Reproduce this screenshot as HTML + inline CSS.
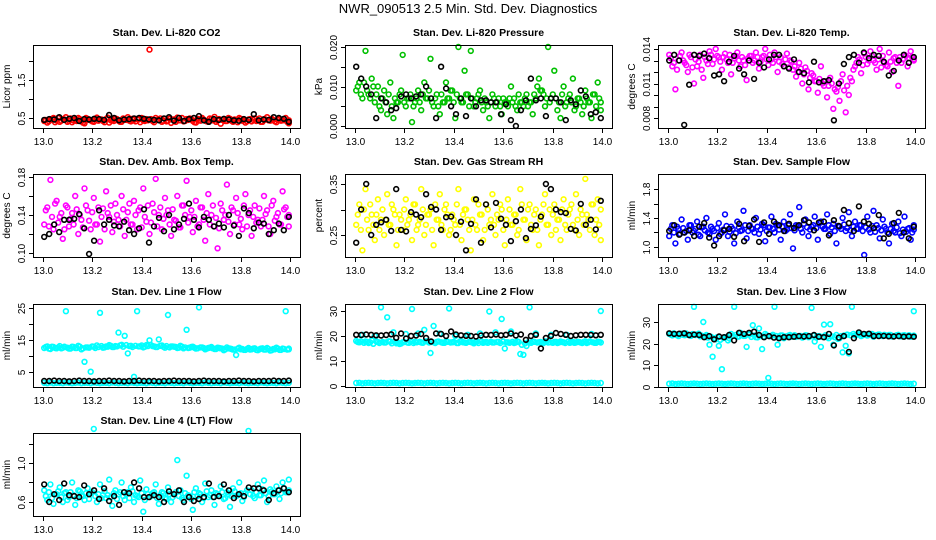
<!DOCTYPE html>
<html><head><meta charset="utf-8">
<style>
html,body{margin:0;padding:0;background:#fff;}
svg{display:block;font-family:"Liberation Sans",Arial,sans-serif;}
.t{font-size:10.5px;font-weight:bold;text-anchor:middle;}
.tk{font-size:10px;text-anchor:middle;}
</style></head>
<body>
<svg id="chart" width="936" height="540" viewBox="0 0 936 540">
<text x="468" y="13" font-size="13" text-anchor="middle">NWR_090513  2.5 Min. Std. Dev. Diagnostics</text>
</svg>
<script>
// ---- data (estimated from reference) ----
const xTicks = [13.0, 13.2, 13.4, 13.6, 13.8, 14.0];
const xTickLabels = ["13.0","13.2","13.4","13.6","13.8","14.0"];

const co2Red = [0.42,0.38,0.45,0.5,0.44,0.4,0.47,0.52,0.43,0.39,0.46,0.5,0.41,0.36,0.48,0.44,0.4,0.51,0.45,0.42,0.47,0.38,0.44,0.49,0.43,0.4,0.46,0.52,0.41,0.45,0.48,0.39,0.44,0.47,2.3,0.42,0.5,0.45,0.4,0.48,0.43,0.37,0.46,0.51,0.44,0.41,0.47,0.49,0.42,0.38,0.45,0.5,0.43,0.4,0.47,0.53,0.44,0.35,0.46,0.42,0.48,0.4,0.45,0.5,0.43,0.38,0.46,0.41,0.49,0.44,0.4,0.47,0.52,0.43,0.45,0.39,0.48,0.44,0.5,0.36];
const co2Red2 = [0.45,0.41,0.48,0.39,0.5,0.43,0.46,0.4,0.49,0.44,0.42,0.47,0.38,0.5,0.45,0.41,0.48,0.43,0.46,0.39,0.51,0.44,0.42,0.47,0.4,0.49,0.45,0.43,0.48,0.41,0.46,0.5,0.42,0.44,0.47,0.39,0.45,0.49,0.43,0.41,0.48,0.46,0.4,0.44,0.5,0.42,0.45,0.47,0.39,0.48,0.43,0.46,0.41,0.49,0.44,0.4,0.47,0.45,0.42,0.5,0.43,0.46,0.39,0.48,0.44,0.41,0.47,0.45,0.42,0.49,0.4,0.46,0.44,0.48,0.41,0.45,0.43,0.47,0.4,0.44];
const co2Black = [0.45,0.47,0.46,0.52,0.45,0.48,0.5,0.42,0.47,0.46,0.48,0.47,0.45,0.58,0.5,0.44,0.46,0.47,0.49,0.5,0.48,0.46,0.45,0.44,0.49,0.52,0.43,0.5,0.42,0.47,0.5,0.55,0.44,0.4,0.47,0.45,0.48,0.46,0.44,0.43,0.47,0.45,0.6,0.44,0.46,0.45,0.52,0.5,0.48,0.4];

const presGreen = [0.009,0.011,0.007,0.019,0.008,0.012,0.006,0.01,0.004,0.009,0.003,0.011,0.002,0.006,0.008,0.018,0.005,0.007,0.001,0.006,0.009,0.004,0.011,0.007,0.017,0.005,0.008,0.003,0.006,0.011,0.007,0.009,0.002,0.02,0.006,0.014,0.008,0.019,0.005,0.007,0.009,0.004,0.006,0.002,0.008,0.005,0.007,0.003,0.006,0.005,0.01,0.007,0.004,0.006,0.005,0.008,0.006,0.003,0.007,0.012,0.009,0.005,0.02,0.007,0.014,0.004,0.002,0.01,0.006,0.008,0.012,0.005,0.007,0.003,0.009,0.006,0.002,0.008,0.011,0.004];
const presGreen2 = [0.01,0.008,0.011,0.009,0.007,0.01,0.008,0.005,0.007,0.006,0.008,0.005,0.007,0.006,0.009,0.006,0.007,0.008,0.005,0.007,0.006,0.008,0.007,0.009,0.006,0.007,0.005,0.008,0.006,0.007,0.009,0.006,0.008,0.007,0.006,0.008,0.005,0.007,0.006,0.008,0.006,0.007,0.005,0.006,0.007,0.006,0.005,0.007,0.006,0.007,0.006,0.005,0.008,0.006,0.007,0.005,0.006,0.008,0.01,0.009,0.008,0.007,0.006,0.008,0.007,0.006,0.008,0.005,0.007,0.006,0.004,0.007,0.006,0.005,0.007,0.006,0.008,0.005,0.007,0.006];
const presBlack = [0.015,0.012,0.01,0.008,0.002,0.007,0.006,0.004,0.0045,0.0075,0.008,0.007,0.0075,0.008,0.01,0.007,0.002,0.015,0.0095,0.005,0.003,0.007,0.0025,0.007,0.005,0.0065,0.0065,0.006,0.006,0.003,0.0055,0.0015,0.0,0.004,0.0065,0.012,0.0065,0.007,0.0025,0.007,0.007,0.006,0.0015,0.0065,0.0055,0.009,0.0075,0.003,0.0035,0.002];

const tempMag = [0.0135,0.0125,0.0105,0.013,0.0137,0.0128,0.012,0.0133,0.011,0.0125,0.0135,0.0115,0.013,0.0138,0.0127,0.014,0.0133,0.0122,0.0136,0.0128,0.0118,0.0132,0.0137,0.0125,0.013,0.0113,0.0134,0.0128,0.0137,0.0123,0.0133,0.014,0.0126,0.0131,0.0137,0.012,0.0133,0.0125,0.0136,0.013,0.0122,0.0116,0.0128,0.011,0.0124,0.0105,0.0119,0.0112,0.0102,0.0125,0.0108,0.0098,0.0115,0.0088,0.0103,0.0095,0.0118,0.0085,0.01,0.0112,0.0125,0.0133,0.0119,0.0136,0.0127,0.0138,0.013,0.0122,0.014,0.0134,0.0126,0.0137,0.012,0.0133,0.0108,0.0128,0.0135,0.0125,0.0138,0.0131];
const tempMag2 = [0.0132,0.0128,0.0122,0.0134,0.013,0.0126,0.0135,0.0124,0.0131,0.0129,0.0122,0.0133,0.0127,0.0135,0.0131,0.0134,0.0129,0.0133,0.0131,0.0135,0.0128,0.0134,0.013,0.0133,0.0126,0.0132,0.0134,0.013,0.0133,0.0129,0.0134,0.0131,0.0135,0.0128,0.0133,0.0129,0.0127,0.0131,0.0124,0.0129,0.0125,0.012,0.0123,0.0118,0.0121,0.0115,0.0117,0.0112,0.0114,0.011,0.0112,0.0108,0.011,0.0105,0.0107,0.0112,0.0104,0.0108,0.0115,0.0122,0.0128,0.0131,0.0126,0.0133,0.013,0.0134,0.0128,0.0131,0.0124,0.0128,0.0125,0.0129,0.0132,0.0128,0.0133,0.0131,0.0134,0.0132,0.0133,0.013];
const tempBlack = [0.013,0.0135,0.013,0.0074,0.0109,0.0135,0.0134,0.0136,0.0132,0.0117,0.0118,0.0112,0.0129,0.0134,0.0123,0.0118,0.013,0.0114,0.0128,0.0124,0.0131,0.0135,0.0135,0.0125,0.0123,0.0131,0.012,0.0119,0.0111,0.0129,0.0111,0.0112,0.0113,0.0078,0.011,0.0127,0.0133,0.0135,0.0128,0.0137,0.0132,0.0135,0.0134,0.0129,0.0117,0.0121,0.013,0.0135,0.0128,0.0133];

const ambMag = [0.13,0.148,0.177,0.125,0.155,0.138,0.115,0.15,0.128,0.142,0.16,0.12,0.135,0.168,0.145,0.125,0.158,0.13,0.112,0.147,0.165,0.138,0.122,0.152,0.135,0.16,0.118,0.143,0.13,0.155,0.125,0.148,0.168,0.133,0.12,0.152,0.178,0.14,0.125,0.158,0.145,0.118,0.135,0.16,0.127,0.15,0.176,0.138,0.122,0.155,0.13,0.148,0.113,0.162,0.14,0.128,0.105,0.152,0.135,0.172,0.12,0.145,0.158,0.13,0.125,0.162,0.14,0.118,0.15,0.135,0.128,0.16,0.145,0.12,0.155,0.138,0.13,0.165,0.148,0.128];
const ambMag2 = [0.145,0.128,0.138,0.152,0.132,0.142,0.125,0.148,0.136,0.13,0.146,0.14,0.127,0.15,0.134,0.143,0.13,0.148,0.138,0.125,0.142,0.15,0.133,0.14,0.128,0.146,0.135,0.152,0.13,0.14,0.145,0.127,0.138,0.15,0.132,0.143,0.128,0.148,0.136,0.14,0.13,0.146,0.134,0.127,0.15,0.14,0.132,0.145,0.138,0.128,0.148,0.135,0.142,0.13,0.15,0.137,0.126,0.145,0.14,0.133,0.148,0.13,0.142,0.136,0.15,0.128,0.145,0.138,0.132,0.147,0.135,0.141,0.128,0.15,0.134,0.142,0.13,0.146,0.138,0.14];
const ambBlack = [0.117,0.12,0.13,0.122,0.135,0.135,0.136,0.141,0.126,0.099,0.113,0.145,0.13,0.135,0.129,0.128,0.133,0.124,0.12,0.126,0.146,0.111,0.128,0.137,0.123,0.14,0.125,0.13,0.136,0.152,0.135,0.127,0.138,0.135,0.128,0.131,0.127,0.14,0.129,0.118,0.147,0.142,0.126,0.132,0.131,0.12,0.124,0.131,0.124,0.138];

const rhYel = [0.27,0.31,0.22,0.34,0.26,0.29,0.24,0.32,0.28,0.25,0.33,0.27,0.3,0.23,0.29,0.26,0.32,0.28,0.24,0.31,0.27,0.34,0.25,0.29,0.3,0.23,0.28,0.33,0.26,0.31,0.25,0.29,0.27,0.34,0.24,0.3,0.28,0.22,0.32,0.26,0.29,0.24,0.31,0.27,0.33,0.25,0.28,0.3,0.23,0.32,0.27,0.29,0.25,0.34,0.28,0.24,0.31,0.26,0.3,0.23,0.29,0.33,0.27,0.25,0.31,0.28,0.24,0.32,0.26,0.3,0.27,0.33,0.25,0.29,0.36,0.28,0.31,0.25,0.32,0.24];
const rhYel2 = [0.29,0.26,0.3,0.28,0.31,0.27,0.29,0.26,0.3,0.28,0.27,0.31,0.29,0.26,0.28,0.3,0.27,0.29,0.31,0.26,0.28,0.3,0.27,0.29,0.26,0.31,0.28,0.27,0.3,0.29,0.26,0.28,0.31,0.27,0.29,0.3,0.26,0.28,0.27,0.31,0.29,0.26,0.3,0.28,0.27,0.29,0.31,0.26,0.28,0.3,0.27,0.29,0.26,0.31,0.28,0.3,0.27,0.29,0.26,0.28,0.31,0.27,0.3,0.29,0.26,0.28,0.3,0.27,0.29,0.31,0.26,0.28,0.3,0.27,0.29,0.26,0.31,0.28,0.27,0.3];
const rhBlack = [0.235,0.3,0.35,0.25,0.27,0.275,0.28,0.258,0.34,0.26,0.257,0.295,0.29,0.285,0.33,0.305,0.3,0.26,0.285,0.286,0.25,0.276,0.22,0.272,0.32,0.235,0.31,0.265,0.313,0.282,0.27,0.238,0.277,0.3,0.244,0.262,0.269,0.286,0.35,0.34,0.3,0.295,0.293,0.262,0.259,0.311,0.27,0.28,0.261,0.317];

const flowBlue = [1.15,1.3,1.05,1.25,1.38,1.2,1.1,1.3,1.22,1.35,1.15,1.28,1.4,1.18,1.25,1.1,1.33,1.2,1.45,1.15,1.28,1.05,1.35,1.22,1.5,1.12,1.3,1.25,1.4,1.18,1.32,1.08,1.27,1.42,1.2,1.3,1.1,1.35,1.24,1.45,0.98,1.3,1.55,1.2,1.38,1.15,1.28,1.42,1.1,1.35,1.25,1.45,1.18,1.32,1.05,1.28,1.4,1.22,1.48,1.15,1.35,1.25,1.3,0.89,1.42,1.2,1.5,1.3,1.12,1.38,1.25,1.05,1.32,1.2,1.35,1.15,1.42,1.25,1.1,1.3];
const flowBlue2 = [1.25,1.2,1.28,1.18,1.26,1.22,1.3,1.2,1.25,1.17,1.27,1.23,1.2,1.28,1.22,1.26,1.18,1.24,1.29,1.21,1.25,1.19,1.27,1.23,1.3,1.22,1.26,1.2,1.28,1.24,1.3,1.22,1.27,1.25,1.32,1.24,1.28,1.22,1.3,1.26,1.23,1.29,1.25,1.32,1.27,1.24,1.3,1.26,1.33,1.28,1.25,1.3,1.27,1.22,1.29,1.25,1.31,1.26,1.23,1.28,1.25,1.3,1.22,1.27,1.24,1.29,1.21,1.26,1.23,1.28,1.2,1.25,1.22,1.27,1.19,1.24,1.21,1.26,1.2,1.24];
const flowBlack = [1.22,1.3,1.17,1.2,1.23,1.15,1.28,1.33,1.13,1.02,1.15,1.23,1.25,1.14,1.32,1.08,1.29,1.38,1.07,1.34,1.18,1.35,1.3,1.22,1.32,1.26,1.3,1.37,1.34,1.23,1.34,1.35,1.16,1.37,1.29,1.51,1.33,1.22,1.56,1.35,1.32,1.26,1.44,1.12,1.18,1.33,1.47,1.2,1.12,1.28];

const l1CyanHi = [12.5,13,12.2,12.8,12.4,13.1,12.6,24,12.3,12.9,12.5,13.2,12.1,8.2,12.7,5.1,12.9,13.3,23.5,12.6,13,13.4,12.8,13.1,17.3,13.5,16.3,10.8,13.2,3.5,24,13,12.7,13.4,14.9,13.1,12.8,15.2,13.3,12.6,22.8,13,12.9,12.5,13.2,12.4,18.2,12.6,12.9,12.3,25.2,12.7,12.1,12.5,12.8,12.2,12.6,12.4,11.8,12.7,12.3,12,10.3,12.6,12.2,11.9,12.5,12.1,12.4,11.8,12.3,12,12.5,11.7,12.2,12.6,11.9,12.3,24,12.1];
const l1CyanHi2 = [12.8,12.3,12.9,12.5,12.7,12.4,12.9,12.6,12.3,12.8,12.5,12.9,12.4,12.7,12.6,13,12.5,12.8,13.1,12.7,12.9,13.2,12.8,13,13.3,12.9,13.4,13.1,12.8,13.2,13,13.3,12.9,13.1,13.4,13,12.8,13.2,12.9,13.1,12.7,13,12.8,12.6,12.9,12.7,12.5,12.8,12.6,12.4,12.7,12.5,12.3,12.6,12.4,12.2,12.5,12.3,12.1,12.4,12.2,12,12.3,12.1,11.9,12.2,12,12.3,11.9,12.1,12.4,12,12.2,11.8,12.1,12.3,11.9,12.2,12,12.3];
const l1CyanLo = [1.6,1.5,1.7,1.5,1.6,1.6,1.5,1.7,1.6,1.5,1.6,1.7,1.5,1.6,1.6,1.5,1.7,1.6,1.5,1.6,1.6,1.5,1.7,1.6,1.5,1.6,1.6,1.5,1.7,1.6,1.5,1.6,1.6,1.5,1.7,1.6,1.5,1.6,1.6,1.5,1.7,1.6,1.5,1.6,1.6,1.5,1.7,1.6,1.5,1.6,1.6,1.5,1.7,1.6,1.5,1.6,1.6,1.5,1.7,1.6,1.5,1.6,1.6,1.5,1.7,1.6,1.5,1.6,1.6,1.5,1.7,1.6,1.5,1.6,1.6,1.5,1.7,1.6,1.5,1.6];
const l1Black = [2.2,2.2,2.3,2.2,2.2,2.1,2.2,2.3,2.2,2.2,2.1,2.2,2.2,2.3,2.2,2.2,2.1,2.2,2.2,2.3,2.2,2.2,2.2,2.1,2.2,2.2,2.3,2.2,2.2,2.2,2.1,2.2,2.3,2.2,2.2,2.2,2.1,2.2,2.2,2.3,2.2,2.2,2.1,2.2,2.2,2.2,2.3,2.2,2.2,2.3];

const l2CyanHi = [18,17.5,20.5,17.8,17.2,18.2,20,17.6,31.5,17.4,27.5,17.8,21.5,17.1,16.8,17.5,20.8,17.3,30.8,17.7,21,17.4,22.5,17.9,13.2,24,17.6,21,17.3,17.8,31,17.5,20,17.2,17.9,17.4,20.5,17.6,17.1,17.8,21,17.3,17.7,29.8,17.4,21.5,17.6,26.8,15,17.5,21.8,17.2,17.8,12.8,12.5,16,31.5,17.7,21,17.5,17.3,17.9,17.4,20.5,17.6,17.2,17.8,17.5,20.5,17.3,17.7,17.4,17.6,17.2,17.9,17.5,20.8,17.3,17.7,30];
const l2CyanHi2 = [17.6,17.9,17.3,17.7,17.5,16.9,17.8,17.2,17.6,17.4,17.9,17.1,17.7,17.3,17,17.6,17.4,17.8,17.2,17.5,17.7,17.3,17.9,17.4,17.6,17.2,17.8,17.5,17.3,17.7,17.4,17.6,17.2,17.8,17.5,17.3,17.7,17.4,17.6,17.2,17.8,17.5,17.3,17.7,17.4,17.6,17.2,17.8,17.5,17.3,17.7,17.4,17.6,16.5,17,17.5,17.3,17.7,17.4,17.6,17.2,17.8,17.5,17.3,17.7,17.4,17.6,17.2,17.8,17.5,17.3,17.7,17.4,17.6,17.2,17.8,17.5,17.3,17.7,17.4];
const l2CyanLo = [1.2,1.3,1.1,1.2,1.3,1.2,1.1,1.2,1.3,1.2,1.1,1.2,1.3,1.2,1.1,1.2,1.3,1.2,1.1,1.2,1.3,1.2,1.1,1.2,1.3,1.2,1.1,1.2,1.3,1.2,1.1,1.2,1.3,1.2,1.1,1.2,1.3,1.2,1.1,1.2,1.3,1.2,1.1,1.2,1.3,1.2,1.1,1.2,1.3,1.2,1.1,1.2,1.3,1.2,1.1,1.2,1.3,1.2,1.1,1.2,1.3,1.2,1.1,1.2,1.3,1.2,1.1,1.2,1.3,1.2,1.1,1.2,1.3,1.2,1.1,1.2,1.3,1.2,1.1,1.2];
const l2Black = [20.5,20.4,20.6,20.5,20.3,20.2,20.4,20.7,19.3,21,19,20,20.2,20.8,19.2,17.8,21,20.8,20,21.8,20.6,20.3,20.1,20,19.8,20.2,20.5,20.4,20.6,20.3,20.5,21,20.2,20.6,18.5,20,20.5,15,19.2,20,21.2,20.8,20.5,20,20.3,20.5,20.5,20.4,20.3,20.5];

const l3CyanHi = [24.5,23.8,24.2,23.5,24.6,23.9,24.1,23.6,37,24.2,23.4,30,24,19.5,14,22,19,8.2,23,21.5,24.5,37,23.2,25,23.6,18.5,24.2,28.5,23,27,17.5,24.5,4.2,23.5,37,19.5,23.8,22.5,23.2,24,23.4,23.1,23.6,22.8,23.9,23,36.5,21,23.5,18.5,28.8,23.2,29,19.5,24,22.5,16,19,15.5,37,23.8,24.3,23.5,24.1,23.7,24.4,23.2,23.9,24.2,23.5,23.8,24,23.3,23.6,24.1,23.4,23.9,23.5,23.2,35];
const l3CyanHi2 = [24.2,24.8,23.9,24.5,24.1,24.7,23.8,24.4,24,24.6,23.7,23.5,22.8,23.2,22.5,23,21.8,22.6,23.1,22.4,23.5,24,23.3,24.2,23.6,24.4,23.1,23.8,22.9,23.5,23.2,23.9,23.4,24.1,23.6,23.1,23.8,23.3,23.7,23.2,23.9,23.4,23.6,23.1,23.8,23.3,23.7,22.8,23.5,23.1,23.9,22.5,23.4,23,22.2,23.5,23.8,24.2,23.9,24.5,24.1,24.6,23.9,24.3,24,24.5,23.8,24.2,23.7,24.1,23.6,24,23.5,23.9,23.4,23.8,23.6,23.9,23.4,23.7];
const l3CyanLo = [1.5,1.6,1.4,1.5,1.6,1.5,1.4,1.5,1.6,1.5,1.4,1.5,1.6,1.5,1.4,1.5,1.6,1.5,1.4,1.5,1.6,1.5,1.4,1.5,1.6,1.5,1.4,1.5,1.6,1.5,1.4,1.5,1.6,1.5,1.4,1.5,1.6,1.5,1.4,1.5,1.6,1.5,1.4,1.5,1.6,1.5,1.4,1.5,1.6,1.5,1.4,1.5,1.6,1.5,1.4,1.5,1.6,1.5,1.4,1.5,1.6,1.5,1.4,1.5,1.6,1.5,1.4,1.5,1.6,1.5,1.4,1.5,1.6,1.5,1.4,1.5,1.6,1.5,1.4,1.5];
const l3Black = [24.8,24.5,24.6,24.8,24,24.2,24,23,23.5,22,23.3,23,24,21.5,25,24.5,25,25.5,24,23,23.5,22.8,22.5,23,23,23.2,23.5,23.3,23.5,24,23.2,23,24.5,19.2,22.8,23.5,16.2,22.5,25.2,24.5,24.6,23.5,23.5,23.6,23.4,23.3,23.5,23.2,23.4,23.2];

const l4Cyan = [0.72,0.62,0.78,0.58,0.68,0.75,0.6,0.7,0.65,0.8,0.57,0.72,0.66,0.62,0.74,0.69,1.35,0.6,0.78,0.67,0.64,0.83,0.56,0.72,0.68,0.8,0.62,0.7,0.75,0.6,0.66,0.82,0.5,0.73,0.65,0.69,0.78,0.58,0.7,0.64,0.75,0.6,0.68,1.03,0.72,0.62,0.87,0.66,0.52,0.74,0.69,0.6,0.79,0.65,0.72,0.57,0.68,0.76,0.63,0.7,0.55,0.74,0.66,0.8,0.61,0.69,1.33,0.72,0.64,0.78,0.67,0.82,0.6,0.73,0.68,0.76,0.63,0.8,0.7,0.83];
const l4Cyan2 = [0.66,0.7,0.64,0.68,0.71,0.65,0.69,0.62,0.7,0.67,0.64,0.71,0.66,0.69,0.63,0.7,0.66,0.68,0.64,0.71,0.67,0.65,0.69,0.63,0.7,0.66,0.68,0.64,0.71,0.67,0.65,0.69,0.62,0.68,0.66,0.7,0.64,0.67,0.69,0.63,0.68,0.65,0.7,0.66,0.64,0.69,0.67,0.63,0.7,0.66,0.68,0.64,0.71,0.67,0.65,0.69,0.66,0.7,0.64,0.68,0.66,0.71,0.67,0.69,0.65,0.72,0.68,0.66,0.7,0.67,0.73,0.69,0.66,0.71,0.68,0.72,0.69,0.74,0.7,0.72];
const l4Black = [0.78,0.6,0.68,0.62,0.79,0.67,0.66,0.65,0.77,0.68,0.72,0.63,0.74,0.61,0.66,0.57,0.7,0.69,0.8,0.74,0.65,0.65,0.67,0.65,0.6,0.71,0.68,0.72,0.6,0.65,0.61,0.63,0.65,0.79,0.65,0.66,0.78,0.72,0.64,0.68,0.66,0.75,0.74,0.74,0.72,0.62,0.69,0.72,0.74,0.7];

// ---- panel layout ----
const NS = "http://www.w3.org/2000/svg";
const svg = document.getElementById('chart');
function mk(tag, attrs, parent){ const e=document.createElementNS(NS,tag); for(const k in attrs) e.setAttribute(k,attrs[k]); (parent||svg).appendChild(e); return e; }

const colLeft = [33, 345, 658];
const rowTop = [45, 174, 304, 433];
const W = 267, H = 83;
const CY='#00ffff';

const panels = [
 {name:'co2',title:'Stan. Dev. Li-820 CO2',ylab:'Licor ppm',c:0,r:0,ymin:0.237,ymax:2.42,ticks:[0.5,1.0,1.5,2.0],labels:['0.5','','1.5',''],series:[[co2Red,'#ff0000',0],[co2Red2,'#ff0000',0.5],[co2Black,'#000',0]]},
 {name:'pressure',title:'Stan. Dev. Li-820 Pressure',ylab:'kPa',c:1,r:0,ymin:-0.0005,ymax:0.0205,ticks:[0,0.005,0.01,0.015,0.02],labels:['0.000','','0.010','','0.020'],series:[[presGreen,'#00c000',0],[presGreen2,'#00c000',0.5],[presBlack,'#000',0]]},
 {name:'temp',title:'Stan. Dev. Li-820 Temp.',ylab:'degrees C',c:2,r:0,ymin:0.00713,ymax:0.01435,ticks:[0.008,0.009,0.010,0.011,0.012,0.013,0.014],labels:['0.008','','','0.011','','','0.014'],series:[[tempMag,'#ff00ff',0],[tempMag2,'#ff00ff',0.5],[tempBlack,'#000',0]]},
 {name:'amb-box-temp',title:'Stan. Dev. Amb. Box Temp.',ylab:'degrees C',c:0,r:1,ymin:0.0958,ymax:0.1832,ticks:[0.10,0.12,0.14,0.16,0.18],labels:['0.10','','0.14','','0.18'],series:[[ambMag,'#ff00ff',0],[ambMag2,'#ff00ff',0.5],[ambBlack,'#000',0]]},
 {name:'gas-rh',title:'Stan. Dev. Gas Stream RH',ylab:'percent',c:1,r:1,ymin:0.2069,ymax:0.3696,ticks:[0.25,0.30,0.35],labels:['0.25','','0.35'],series:[[rhYel,'#ffff00',0],[rhYel2,'#ffff00',0.5],[rhBlack,'#000',0]]},
 {name:'sample-flow',title:'Stan. Dev. Sample Flow',ylab:'ml/min',c:2,r:1,ymin:0.862,ymax:2.007,ticks:[1.0,1.2,1.4,1.6,1.8],labels:['1.0','','1.4','','1.8'],series:[[flowBlue,'#0000ff',0],[flowBlue2,'#0000ff',0.5],[flowBlack,'#000',0]]},
 {name:'line1-flow',title:'Stan. Dev. Line 1 Flow',ylab:'ml/min',c:0,r:2,ymin:0.31,ymax:26.25,ticks:[5,10,15,20,25],labels:['5','','15','','25'],series:[[l1CyanHi,CY,0],[l1CyanHi2,CY,0.5],[l1CyanLo,CY,0],[l1Black,'#000',0]]},
 {name:'line2-flow',title:'Stan. Dev. Line 2 Flow',ylab:'ml/min',c:1,r:2,ymin:-0.4,ymax:32.8,ticks:[0,10,20,30],labels:['0','10','20','30'],series:[[l2CyanHi,CY,0],[l2CyanHi2,CY,0.5],[l2CyanLo,CY,0],[l2Black,'#000',0]]},
 {name:'line3-flow',title:'Stan. Dev. Line 3 Flow',ylab:'ml/min',c:2,r:2,ymin:0,ymax:38.3,ticks:[0,10,20,30],labels:['0','10','20','30'],series:[[l3CyanHi,CY,0],[l3CyanHi2,CY,0.5],[l3CyanLo,CY,0],[l3Black,'#000',0]]},
 {name:'line4-flow',title:'Stan. Dev. Line 4 (LT) Flow',ylab:'ml/min',c:0,r:3,ymin:0.456,ymax:1.308,ticks:[0.6,0.8,1.0,1.2],labels:['0.6','','1.0',''],series:[[l4Cyan,CY,0],[l4Cyan2,CY,0.5],[l4Black,'#000',0]]}
];

panels.forEach(p=>{
  const L = colLeft[p.c], T = rowTop[p.r], B = T+H;
  const xs = v => L + 10 + (v-13.0)*247;
  const ys = v => B - (v-p.ymin)/(p.ymax-p.ymin)*H;
  const g = mk('g',{});
  
  
  const title = mk('text',{x:L+W/2,y:T-9,class:'t'},g);
  title.textContent = p.title;
  
  
  p.series.forEach((s,si)=>{
    const vals = s[0], n = vals.length, off = s[2];
    const sg = mk('g',{fill:'none',stroke:s[1],'stroke-width':1.6},g);
    
    
    vals.forEach((v,i)=>{
      const t = 13.0 + Math.min(1,(i+off)/(n-1)) * 0.99 + 0.005;
      const c = mk('circle',{cx:xs(t).toFixed(1),cy:ys(v).toFixed(1),r:2.4},sg);
      
      
    });
  });
  const box = mk('rect',{x:L+0.5,y:T+0.5,width:W,height:H,fill:'none',stroke:'#000','stroke-width':1},g);
  
  
  const xa = mk('g',{},g);
  
  
  xTicks.forEach((v,i)=>{
    const x = Math.round(xs(v))+0.5;
    mk('line',{x1:x,x2:x,y1:B+1,y2:B+5,stroke:'#000'},xa);
    const tx = mk('text',{x:x,y:B+17,class:'tk'},xa);
    tx.textContent = xTickLabels[i];
  });
  const ya = mk('g',{},g);
  
  
  p.ticks.forEach((v,i)=>{
    const y = Math.round(ys(v))+0.5;
    mk('line',{x1:L-4,x2:L,y1:y,y2:y,stroke:'#000'},ya);
    if(p.labels[i]){
      const tx = mk('text',{x:L-8,y:y,class:'tk',transform:`rotate(-90 ${L-8} ${y})`},ya);
      tx.textContent = p.labels[i];
    }
  });
  const yl = mk('text',{x:L-23,y:T+H/2,class:'tk',transform:`rotate(-90 ${L-23} ${T+H/2})`},g);
  yl.textContent = p.ylab;
  
  
});
</script>
</body></html>
